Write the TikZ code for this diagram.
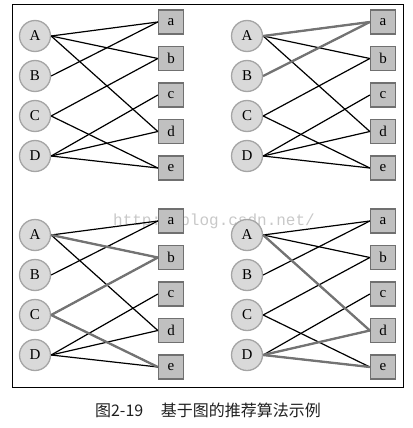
\documentclass[tikz,border=0pt]{standalone}
\usepackage{fontspec}
\setmainfont{Liberation Serif}
\newfontfamily\cjk{Noto Sans CJK SC}
\newfontfamily\wmfont{Liberation Mono}
\definecolor{circfill}{RGB}{217,217,217}
\definecolor{circdraw}{RGB}{165,165,165}
\definecolor{boxfill}{RGB}{192,192,192}
\definecolor{boxdraw}{RGB}{112,112,112}
\definecolor{hlcol}{RGB}{115,115,115}
\definecolor{wmcol}{RGB}{200,200,200}
\tikzset{
  cnode/.style={circle, draw=circdraw, fill=circfill, line width=1.3pt,
    minimum size=31pt, inner sep=0pt, font=\fontsize{15}{15}\selectfont},
  bnode/.style={rectangle, draw=boxdraw, fill=boxfill, line width=1.3pt,
    minimum width=25pt, minimum height=24pt, inner sep=0pt,
    font=\fontsize{15}{15}\selectfont},
  edge/.style={line width=1.2pt, black},
  hledge/.style={line width=2.3pt, hlcol},
  frame/.style={line width=1pt, black},
  caption/.style={font=\cjk\fontsize{16}{16}\selectfont, text=black!88},
  watermark/.style={font=\wmfont\fontsize{16}{16}\selectfont, text=wmcol}
}
\begin{document}
\begin{tikzpicture}[x=1pt, y=-1pt]
\useasboundingbox (0,0) rectangle (412,428);
\node[watermark] (wm) at (214,221) {http://blog.csdn.net/};
\draw[frame] (12,5) rectangle (403,387);
\foreach \p/\dx/\dy in {1/0/0, 2/212/0, 3/0/199, 4/212/199} {
  \begin{scope}[shift={(\dx,\dy)}]
    \node[cnode] (A\p) at (35,36) {A};
    \node[cnode] (B\p) at (35,76) {B};
    \node[cnode] (C\p) at (35,116) {C};
    \node[cnode] (D\p) at (35,156) {D};
    \node[bnode] (a\p) at (171,22) {a};
    \node[bnode] (b\p) at (171,58.5) {b};
    \node[bnode] (c\p) at (171,95) {c};
    \node[bnode] (d\p) at (171,131.5) {d};
    \node[bnode] (e\p) at (171,168) {e};
  \end{scope}
  \foreach \u/\v in {A/a,A/b,A/d,B/a,C/b,C/e,D/c,D/d,D/e}
    \draw[edge] (\u\p.east) -- (\v\p.west);
}
\draw[hledge] (A2.east) -- (a2.west);
\draw[hledge] (B2.east) -- (a2.west);
\draw[hledge] (A3.east) -- (b3.west);
\draw[hledge] (C3.east) -- (b3.west);
\draw[hledge] (C3.east) -- (e3.west);
\draw[hledge] (A4.east) -- (d4.west);
\draw[hledge] (D4.east) -- (d4.west);
\draw[hledge] (D4.east) -- (e4.west);
\node[caption] (cap) at (208,410) {图2-19\hspace{1.1em}基于图的推荐算法示例};
\end{tikzpicture}
\end{document}
